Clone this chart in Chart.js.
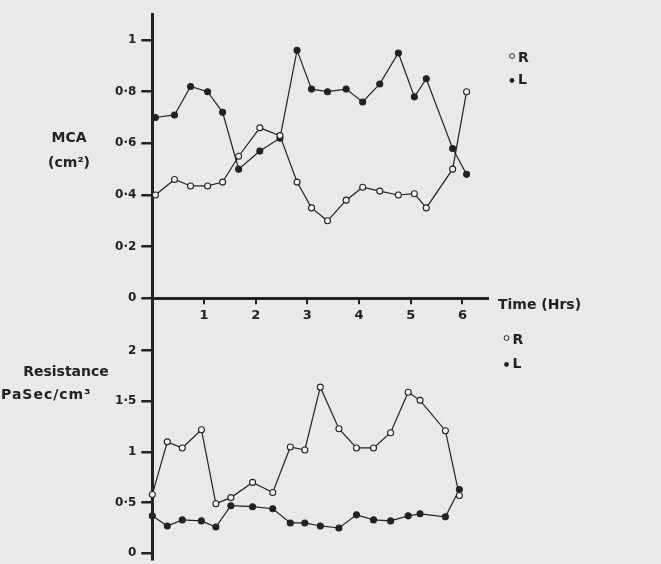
<!DOCTYPE html>
<html>
<head>
<meta charset="utf-8">
<script src="https://cdn.jsdelivr.net/npm/chart.js@4.4.0/dist/chart.umd.min.js"></script>
<style>
  body { margin: 0; background: #e9e9e9; }
  #wrap { position: relative; width: 661px; height: 564px; }
  canvas { position: absolute; left: 0; top: 0; }
</style>
</head>
<body>
<div id="wrap">
  <canvas id="mcaChart" width="661" height="564"></canvas>
  <canvas id="resChart" width="661" height="564"></canvas>
</div>
<script>
// readings every ~20 min, times (hours)
const mcaHours = [0.06, 0.43, 0.74, 1.07, 1.36, 1.67, 2.08, 2.47, 2.80, 3.08, 3.39, 3.75, 4.07, 4.40, 4.76, 5.07, 5.30, 5.81, 6.08];
const mcaR = [0.40, 0.46, 0.435, 0.435, 0.45, 0.55, 0.66, 0.63, 0.45, 0.35, 0.30, 0.38, 0.43, 0.415, 0.40, 0.405, 0.35, 0.50, 0.80];
const mcaL = [0.70, 0.71, 0.82, 0.80, 0.72, 0.50, 0.57, 0.62, 0.96, 0.81, 0.80, 0.81, 0.76, 0.83, 0.95, 0.78, 0.85, 0.58, 0.48];

const resHours = [0, 0.29, 0.58, 0.95, 1.23, 1.52, 1.94, 2.33, 2.67, 2.95, 3.25, 3.61, 3.95, 4.28, 4.61, 4.95, 5.18, 5.67, 5.94];
const resR = [0.58, 1.10, 1.04, 1.22, 0.49, 0.55, 0.70, 0.60, 1.05, 1.02, 1.64, 1.23, 1.04, 1.04, 1.19, 1.59, 1.51, 1.21, 0.57];
const resL = [0.37, 0.27, 0.33, 0.32, 0.26, 0.47, 0.46, 0.44, 0.30, 0.30, 0.27, 0.25, 0.38, 0.33, 0.32, 0.37, 0.39, 0.36, 0.63];

const hourTicks = [1, 2, 3, 4, 5, 6];
const mcaTicks = [0, 0.2, 0.4, 0.6, 0.8, 1];
const resTicks = [0, 0.5, 1, 1.5, 2];
const seriesNames = ['R', 'L'];

const ink = '#222';
const paper = '#f4f4f4';
const font = 'DejaVu Sans';

// 0.8 -> 0·8, 1 -> 1
const fmt = v => (Number.isInteger(v) ? String(v) : v.toFixed(1)).replace('.', '·');

// loose labels + the little R / L key
const notes = {
  id: 'notes',
  afterDraw(chart, args, opts) {
    const c = chart.ctx;
    c.save();
    c.fillStyle = ink;
    c.strokeStyle = ink;
    c.textBaseline = 'middle';
    (opts.items || []).forEach(t => {
      c.font = 'bold ' + (t.size || 14) + 'px "' + font + '"';
      c.textAlign = t.align || 'left';
      c.letterSpacing = t.spacing || '0px';
      c.fillText(t.text, t.x, t.y);
    });
    c.letterSpacing = '0px';
    const k = opts.key;
    if (k) {
      chart.data.datasets.forEach((ds, i) => {
        const y = k.y + i * k.gap;
        c.beginPath();
        c.arc(k.x, y - (i === 0 ? 2 : 0), 2.4, 0, Math.PI * 2);
        c.lineWidth = 1;
        if (i === 0) { c.fillStyle = paper; c.fill(); c.stroke(); }
        else { c.fillStyle = ink; c.fill(); }
        c.fillStyle = ink;
        c.font = 'bold 14px "' + font + '"';
        c.textAlign = 'left';
        c.fillText(ds.label, k.x + 6, y);
      });
    }
    c.restore();
  }
};

function series(hours, vals, i) {
  return {
    label: seriesNames[i],
    data: hours.map((h, j) => ({ x: h, y: vals[j] })),
    showLine: true,
    borderColor: ink,
    borderWidth: 1.2,
    pointRadius: 3,
    pointBorderWidth: 1.1,
    pointBorderColor: ink,
    pointBackgroundColor: i === 0 ? paper : ink,
    clip: false,
    tension: 0
  };
}

function yScale(min, max, list, size) {
  return {
    type: 'linear', min: min, max: max,
    afterBuildTicks: s => { s.ticks = list.map(v => ({ value: v })); },
    afterFit: s => { s.width = 152.3; s.paddingTop = 0; s.paddingBottom = 0; },
    grid: { drawOnChartArea: false, drawTicks: true, tickLength: 11, color: ink, lineWidth: 2.5 },
    border: { display: true, color: ink, width: 3 },
    ticks: { callback: fmt, color: ink, padding: 5, font: { family: font, weight: 'bold', size: size } }
  };
}

const mcaChart = new Chart(document.getElementById('mcaChart'), {
  type: 'scatter',
  data: { datasets: [series(mcaHours, mcaR, 0), series(mcaHours, mcaL, 1)] },
  options: {
    responsive: false,
    animation: false,
    layout: { padding: { left: 0, top: 14.2, right: 172.7, bottom: 235.7 } },
    scales: {
      x: {
        type: 'linear', min: 0, max: 6.5,
        afterBuildTicks: s => { s.ticks = hourTicks.map(v => ({ value: v })); },
        afterFit: s => { s.height = 30; s.paddingLeft = 0; s.paddingRight = 0; },
        grid: { drawOnChartArea: false, drawTicks: true, tickLength: 6, color: ink, lineWidth: 2 },
        border: { display: true, color: ink, width: 3 },
        ticks: { color: ink, padding: 4, maxRotation: 0, font: { family: font, weight: 'bold', size: 13 } }
      },
      y: yScale(0, 1.1, mcaTicks, 12)
    },
    plugins: {
      legend: { display: false },
      tooltip: { enabled: false },
      notes: {
        items: [
          { text: 'MCA', x: 69, y: 138, align: 'center' },
          { text: '(cm²)', x: 69, y: 163, align: 'center' },
          { text: 'Time (Hrs)', x: 498, y: 305 }
        ],
        key: { x: 512, y: 58, gap: 22.5 }
      }
    }
  },
  plugins: [notes]
});

const resChart = new Chart(document.getElementById('resChart'), {
  type: 'scatter',
  data: { datasets: [series(resHours, resR, 0), series(resHours, resL, 1)] },
  options: {
    responsive: false,
    animation: false,
    layout: { padding: { left: 0, top: 298, right: 172.7, bottom: 0 } },
    scales: {
      x: { type: 'linear', min: 0, max: 6.5, display: false },
      y: yScale(-0.055, 2.52, resTicks, 12)
    },
    plugins: {
      legend: { display: false },
      tooltip: { enabled: false },
      notes: {
        items: [
          { text: 'Resistance', x: 66, y: 372, align: 'center' },
          { text: 'PaSec/cm³', x: 1, y: 395, spacing: '1px' }
        ],
        key: { x: 506.5, y: 340, gap: 24.5 }
      }
    }
  },
  plugins: [notes]
});
</script>
</body>
</html>
